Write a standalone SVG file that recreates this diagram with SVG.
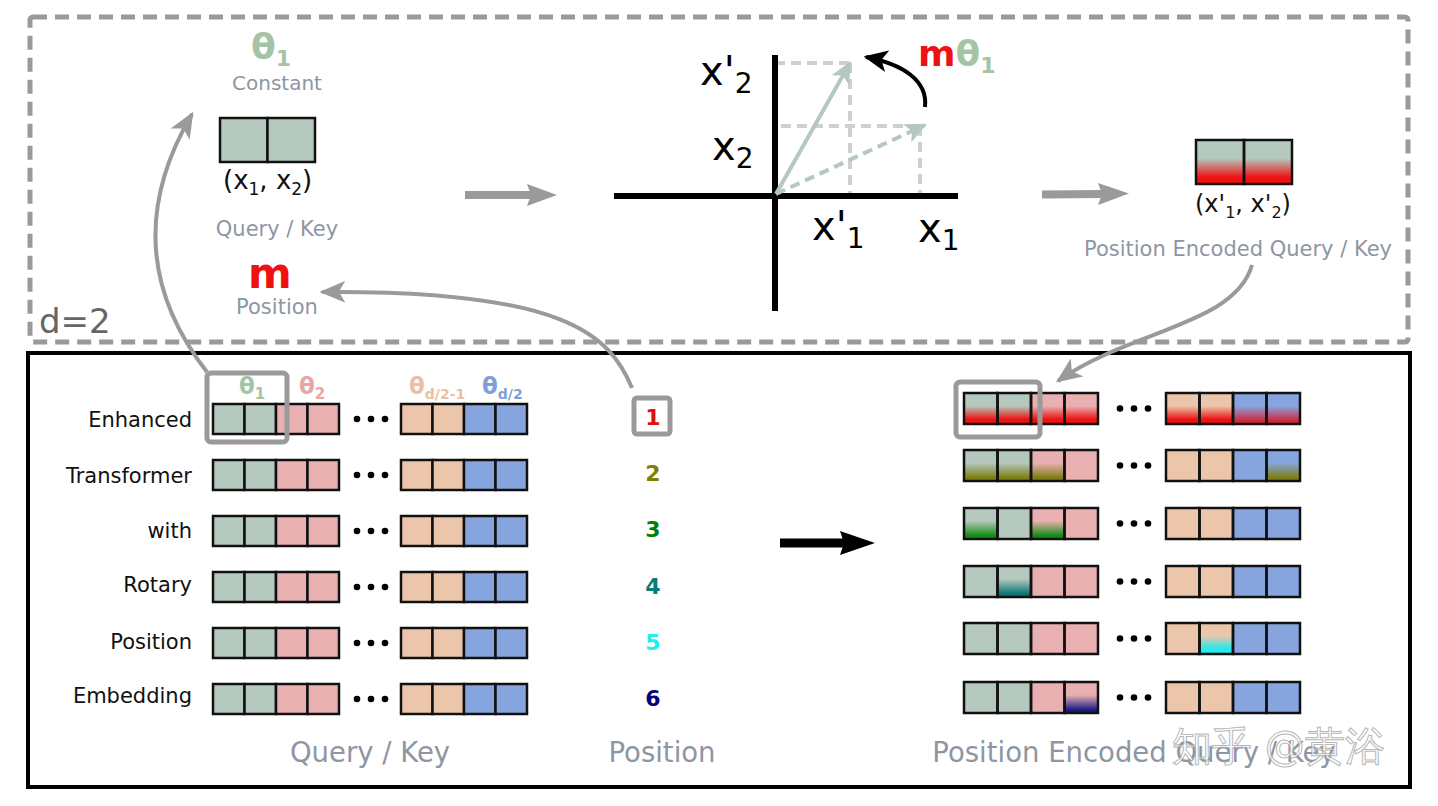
<svg xmlns="http://www.w3.org/2000/svg" xmlns:xlink="http://www.w3.org/1999/xlink" width="1438" height="806" viewBox="0 0 1438 806">
<style>
text{font-family:"DejaVu Sans","Noto Sans",sans-serif}
.g{fill:#b4c8bd}.p{fill:#e8b0b1}.o{fill:#ebc6ab}.b{fill:#86a5de}
.cell{stroke:#111;stroke-width:2.5}
.line{fill:none;stroke:#111;stroke-width:2.5}
.gray{fill:#8e96a3}
.lbl{font-size:21px;fill:#111;text-anchor:end}
.num{font-size:22px;font-weight:bold;text-anchor:middle}
.th{font-size:23px;font-weight:bold}
.big{font-size:27.5px;fill:#8e96a3;text-anchor:middle}
.conn{fill:none;stroke:#9a9a9a;stroke-width:4}
.hl{fill:none;stroke:#9a9a9a;stroke-width:5}
.dash{fill:none;stroke:#cfcfcf;stroke-width:4;stroke-dasharray:10 6}
.shaft{stroke:#9a9a9a;stroke-width:8}
.head{fill:#9a9a9a}
</style>
<defs>
<marker id="ahG" viewBox="0 0 10 10" refX="9" refY="5" markerWidth="26" markerHeight="22" markerUnits="userSpaceOnUse" orient="auto" preserveAspectRatio="none"><path d="M0,0 L10,5 L0,10 L2.5,5 z" fill="#9a9a9a"/></marker>
<marker id="ahK" viewBox="0 0 10 10" refX="9" refY="5" markerWidth="24" markerHeight="22" markerUnits="userSpaceOnUse" orient="auto" preserveAspectRatio="none"><path d="M0,0 L10,5 L0,10 L2.5,5 z" fill="#000"/></marker>
<marker id="ahV" viewBox="0 0 10 10" refX="9" refY="5" markerWidth="22" markerHeight="20" markerUnits="userSpaceOnUse" orient="auto" preserveAspectRatio="none"><path d="M0,0 L10,5 L0,10 L2.5,5 z" fill="#b4c8bd"/></marker>
<linearGradient id="gR" x1="0" y1="0" x2="0" y2="1"><stop offset="0.42" stop-color="#ee1111" stop-opacity="0"/><stop offset="0.85" stop-color="#ee1111"/></linearGradient>
<linearGradient id="gRb" x1="0" y1="0" x2="0" y2="1"><stop offset="0.42" stop-color="#dd1122" stop-opacity="0"/><stop offset="0.9" stop-color="#d41a2a" stop-opacity="0.9"/></linearGradient>
<linearGradient id="gO" x1="0" y1="0" x2="0" y2="1"><stop offset="0.42" stop-color="#7d7d12" stop-opacity="0"/><stop offset="0.9" stop-color="#7d7d12"/></linearGradient>
<linearGradient id="gGr" x1="0" y1="0" x2="0" y2="1"><stop offset="0.42" stop-color="#138a13" stop-opacity="0"/><stop offset="0.9" stop-color="#138a13"/></linearGradient>
<linearGradient id="gT" x1="0" y1="0" x2="0" y2="1"><stop offset="0.42" stop-color="#0a7575" stop-opacity="0"/><stop offset="0.9" stop-color="#0a7575"/></linearGradient>
<linearGradient id="gC" x1="0" y1="0" x2="0" y2="1"><stop offset="0.42" stop-color="#2ee8e8" stop-opacity="0"/><stop offset="0.8" stop-color="#2ee8e8"/></linearGradient>
<linearGradient id="gN" x1="0" y1="0" x2="0" y2="1"><stop offset="0.42" stop-color="#1a1a80" stop-opacity="0"/><stop offset="0.9" stop-color="#1a1a80"/></linearGradient>
<g id="qkRow">
<rect class="cell g" x="213" y="0" width="31.5" height="30"/><rect class="cell g" x="244.5" y="0" width="31.5" height="30"/>
<rect class="cell p" x="276" y="0" width="31.5" height="30"/><rect class="cell p" x="307.5" y="0" width="31.5" height="30"/>
<circle cx="357" cy="15" r="3.3"/><circle cx="371" cy="15" r="3.3"/><circle cx="385" cy="15" r="3.3"/>
<rect class="cell o" x="401" y="0" width="31.5" height="30"/><rect class="cell o" x="432.5" y="0" width="31.5" height="30"/>
<rect class="cell b" x="464" y="0" width="31.5" height="30"/><rect class="cell b" x="495.5" y="0" width="31.5" height="30"/>
</g>
<g id="encFill">
<rect class="g" x="964" y="0" width="33.5" height="31"/><rect class="g" x="997.5" y="0" width="33.5" height="31"/>
<rect class="p" x="1031" y="0" width="33.5" height="31"/><rect class="p" x="1064.5" y="0" width="33.5" height="31"/>
<rect class="o" x="1166" y="0" width="33.5" height="31"/><rect class="o" x="1199.5" y="0" width="33.5" height="31"/>
<rect class="b" x="1233" y="0" width="33.5" height="31"/><rect class="b" x="1266.5" y="0" width="33.5" height="31"/>
</g>
<g id="encLine">
<rect class="line" x="964" y="0" width="33.5" height="31"/><rect class="line" x="997.5" y="0" width="33.5" height="31"/>
<rect class="line" x="1031" y="0" width="33.5" height="31"/><rect class="line" x="1064.5" y="0" width="33.5" height="31"/>
<circle cx="1120" cy="15.5" r="3.3"/><circle cx="1134" cy="15.5" r="3.3"/><circle cx="1148" cy="15.5" r="3.3"/>
<rect class="line" x="1166" y="0" width="33.5" height="31"/><rect class="line" x="1199.5" y="0" width="33.5" height="31"/>
<rect class="line" x="1233" y="0" width="33.5" height="31"/><rect class="line" x="1266.5" y="0" width="33.5" height="31"/>
</g>
</defs>
<rect width="1438" height="806" fill="#fff"/>

<g id="frames">
<rect x="30" y="17" width="1378" height="325" rx="3" fill="none" stroke="#9a9a9a" stroke-width="5" stroke-dasharray="14 8"/>
<rect x="28" y="353" width="1382" height="434" fill="none" stroke="#000" stroke-width="4"/>
<text x="39" y="333" font-size="34" fill="#666">d=2</text>
</g>

<g id="theta-constant">
<text x="251" y="59" font-size="36" font-weight="bold" fill="#a3c5a5">θ<tspan font-size="22" dy="7">1</tspan></text>
<text x="277" y="90" font-size="20" text-anchor="middle" class="gray">Constant</text>
</g>

<g id="query-key-top">
<rect class="cell g" x="220" y="118" width="47.5" height="44" stroke-width="3"/>
<rect class="cell g" x="267.5" y="118" width="47.5" height="44" stroke-width="3"/>
<text x="223" y="189" font-size="26" fill="#111">(x<tspan font-size="17" dy="6">1</tspan><tspan dy="-6">, x</tspan><tspan font-size="17" dy="6">2</tspan><tspan dy="-6">)</tspan></text>
<text x="277" y="236" font-size="21" text-anchor="middle" class="gray">Query / Key</text>
</g>

<g id="m-position">
<text x="270" y="288" font-size="42" font-weight="bold" fill="#ee1111" text-anchor="middle">m</text>
<text x="277" y="314" font-size="21" text-anchor="middle" class="gray">Position</text>
</g>

<g id="rotation-plot">
<line x1="775" y1="63" x2="850" y2="63" class="dash"/>
<line x1="850" y1="63" x2="850" y2="196" class="dash"/>
<line x1="781" y1="126" x2="920" y2="126" class="dash"/>
<line x1="920" y1="126" x2="920" y2="196" class="dash"/>
<line x1="614" y1="196" x2="958" y2="196" stroke="#000" stroke-width="6"/>
<line x1="775" y1="55" x2="775" y2="311" stroke="#000" stroke-width="6"/>
<line x1="776" y1="194" x2="850" y2="63" stroke="#b4c8bd" stroke-width="4" marker-end="url(#ahV)"/>
<line x1="776" y1="194" x2="925" y2="125" stroke="#b4c8bd" stroke-width="4" stroke-dasharray="10 6" marker-end="url(#ahV)"/>
<path d="M925,107 C928,80 902,64 866,57" fill="none" stroke="#000" stroke-width="4" marker-end="url(#ahK)"/>
<text x="700" y="85" font-size="40" fill="#000">x'<tspan font-size="28" dy="8">2</tspan></text>
<text x="712" y="160" font-size="40" fill="#000">x<tspan font-size="28" dy="8">2</tspan></text>
<text x="812" y="240" font-size="40" fill="#000">x'<tspan font-size="28" dy="8">1</tspan></text>
<text x="918" y="242" font-size="40" fill="#000">x<tspan font-size="28" dy="8">1</tspan></text>
<text x="918" y="66" font-size="36" font-weight="bold" fill="#ee1111">m<tspan fill="#a3c5a5">θ</tspan><tspan fill="#a3c5a5" font-size="22" dy="7">1</tspan></text>
</g>

<g id="encoded-top">
<rect class="g" x="1196" y="140" width="48" height="44"/><rect class="g" x="1244" y="140" width="48" height="44"/>
<rect fill="url(#gR)" x="1196" y="140" width="96" height="44"/>
<rect class="line" x="1196" y="140" width="48" height="44" stroke-width="3"/><rect class="line" x="1244" y="140" width="48" height="44" stroke-width="3"/>
<text x="1195" y="212" font-size="24" fill="#111">(x'<tspan font-size="16" dy="6">1</tspan><tspan dy="-6">, x'</tspan><tspan font-size="16" dy="6">2</tspan><tspan dy="-6">)</tspan></text>
<text x="1238" y="256" font-size="21" text-anchor="middle" class="gray">Position Encoded Query / Key</text>
</g>

<g id="connectors">
<line class="shaft" x1="465" y1="195" x2="531" y2="195"/>
<polygon class="head" points="527,184 557,195 527,206 531,195"/>
<line class="shaft" x1="1042" y1="194.5" x2="1102" y2="194"/>
<polygon class="head" points="1098,183 1129,193.5 1098,205 1102,194"/>
<path class="conn" d="M207,372 Q112,250 192,114" marker-end="url(#ahG)"/>
<path class="conn" d="M632,388 C610,335 565,290 322,292" marker-end="url(#ahG)"/>
<path class="conn" d="M1252,265 C1235,325 1130,330 1058,381" marker-end="url(#ahG)"/>
<line x1="780" y1="543" x2="845" y2="543" stroke="#000" stroke-width="9"/>
<polygon points="840,531 875,543 840,555 844,543" fill="#000"/>
</g>

<g id="row-labels">
<text class="lbl" x="192" y="427">Enhanced</text>
<text class="lbl" x="192" y="483">Transformer</text>
<text class="lbl" x="192" y="538">with</text>
<text class="lbl" x="192" y="592">Rotary</text>
<text class="lbl" x="192" y="649">Position</text>
<text class="lbl" x="192" y="703">Embedding</text>
</g>

<g id="theta-labels">
<text class="th" x="239" y="394" fill="#a3c5a5">θ<tspan font-size="15" dy="5">1</tspan></text>
<text class="th" x="299" y="394" fill="#e8a4a6">θ<tspan font-size="15" dy="5">2</tspan></text>
<text class="th" x="409" y="394" fill="#ebbf9f">θ<tspan font-size="14" dy="5">d/2-1</tspan></text>
<text class="th" x="482" y="394" fill="#7e9fd8">θ<tspan font-size="14" dy="5">d/2</tspan></text>
</g>

<g id="query-key-rows">
<use xlink:href="#qkRow" y="404"/>
<use xlink:href="#qkRow" y="460"/>
<use xlink:href="#qkRow" y="516"/>
<use xlink:href="#qkRow" y="572"/>
<use xlink:href="#qkRow" y="628"/>
<use xlink:href="#qkRow" y="684"/>
<rect class="hl" x="207" y="373" width="80" height="69" rx="4"/>
</g>

<g id="positions">
<rect class="hl" x="634" y="398" width="36" height="36" rx="3"/>
<text class="num" x="653" y="425" fill="#e01010">1</text>
<text class="num" x="653" y="481" fill="#808000">2</text>
<text class="num" x="653" y="537" fill="#008000">3</text>
<text class="num" x="653" y="594" fill="#0a7a7a">4</text>
<text class="num" x="653" y="650" fill="#22eeee">5</text>
<text class="num" x="653" y="706" fill="#000080">6</text>
</g>

<g id="encoded-rows">
<g transform="translate(0,393)">
<use xlink:href="#encFill"/>
<rect fill="url(#gR)" x="964" y="0" width="134" height="31"/>
<rect fill="url(#gR)" x="1166" y="0" width="67" height="31"/>
<rect fill="url(#gRb)" x="1233" y="0" width="67" height="31"/>
<use xlink:href="#encLine"/>
</g>
<g transform="translate(0,450)">
<use xlink:href="#encFill"/>
<rect fill="url(#gO)" x="964" y="0" width="100.5" height="31"/>
<rect fill="url(#gO)" x="1266.5" y="0" width="33.5" height="31"/>
<use xlink:href="#encLine"/>
</g>
<g transform="translate(0,508)">
<use xlink:href="#encFill"/>
<rect fill="url(#gGr)" x="964" y="0" width="33.5" height="31"/>
<rect fill="url(#gGr)" x="1031" y="0" width="33.5" height="31"/>
<use xlink:href="#encLine"/>
</g>
<g transform="translate(0,566)">
<use xlink:href="#encFill"/>
<rect fill="url(#gT)" x="997.5" y="0" width="33.5" height="31"/>
<use xlink:href="#encLine"/>
</g>
<g transform="translate(0,623)">
<use xlink:href="#encFill"/>
<rect fill="url(#gC)" x="1199.5" y="0" width="33.5" height="31"/>
<use xlink:href="#encLine"/>
</g>
<g transform="translate(0,682)">
<use xlink:href="#encFill"/>
<rect fill="url(#gN)" x="1064.5" y="0" width="33.5" height="31"/>
<use xlink:href="#encLine"/>
</g>
<rect class="hl" x="956" y="382" width="84" height="55" rx="4"/>
</g>

<g id="bottom-labels">
<text class="big" x="370" y="762">Query / Key</text>
<text class="big" x="662" y="762">Position</text>
<text class="big" x="1134" y="762" font-size="28">Position Encoded Query / Key</text>
</g>

<g id="watermark" opacity="0.75">
<text x="1172" y="760" font-size="40" fill="#fff" stroke="#a0a0a0" stroke-width="1" font-family="'DejaVu Sans','Noto Sans CJK SC',sans-serif">知乎 @黄浴</text>
</g>
</svg>
